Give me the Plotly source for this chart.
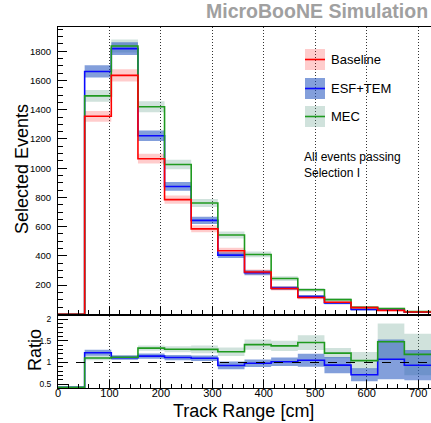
import plotly.graph_objects as go

# ---------------- data ----------------
bin_edges = [0, 51.8, 103.6, 155.4, 207.1, 258.9, 310.7, 362.5, 414.3, 466.1,
             517.9, 569.6, 621.4, 673.2, 725.0]

baseline = [0, 1355, 1635, 1065, 785, 585, 435, 290, 177, 115, 83, 46, 27, 16]
esf_tem = [0, 1662, 1818, 1222, 875, 643, 405, 285, 180, 121, 78, 33, 29, 15]
mec = [0, 1495, 1836, 1420, 1025, 762, 543, 410, 245, 168, 101, 48, 40, 19]

baseline_err = [0, 37, 42, 33, 28, 24, 21, 17, 13, 11, 9, 7, 5, 4]
esf_tem_err = [0, 42, 44, 36, 30, 25, 20, 17, 13, 11, 9, 6, 5, 4]
mec_err = [0, 40, 44, 38, 32, 28, 24, 20, 16, 13, 10, 7, 6, 4]

esf_ratio_err = [0, 0.07, 0.05, 0.06, 0.06, 0.065, 0.09, 0.085, 0.1, 0.15, 0.19, 0.15, 0.46, 0.35]
mec_ratio_err = [0, 0.05, 0.05, 0.06, 0.07, 0.09, 0.1, 0.12, 0.12, 0.17, 0.12, 0.2, 0.42, 0.48]

top_ticks = [200, 400, 600, 800, 1000, 1200, 1400, 1600, 1800]
ratio_ticks = [0.5, 1, 1.5, 2]
x_ticks = [0, 100, 200, 300, 400, 500, 600, 700]

series_names = ["Baseline", "ESF+TEM", "MEC"]

# ---------------- styling ----------------
W, H = 431, 423
L, R, T, B = 58, 0, 27, 35
PW = W - L - R
PH = H - T - B
FONT = "Liberation Sans, Arial, Helvetica, sans-serif"

RED, BLUE, GREEN = "#ff0000", "#0a0aff", "#1f9a1f"
RED_F = "rgba(255,0,0,0.2)"
BLUE_F = "rgba(30,80,190,0.55)"
GREEN_F = "rgba(100,160,140,0.3)"

RATIO_MIN, RATIO_MAX = 0.41, 2.08
GRID_DASH = "1px,2px"


def pxx(x):
    return (x - L) / PW


def pyy(y):
    return (H - B - y) / PH


def step(vals):
    return list(vals) + [vals[-1]]


fig = go.Figure()


def add_band(vals, errs, fill, xa, ya, lo_clip=None):
    lo = [v - e for v, e in zip(vals, errs)]
    hi = [v + e for v, e in zip(vals, errs)]
    if lo_clip is not None:
        lo = [max(v, lo_clip) for v in lo]
        hi = [max(v, lo_clip) for v in hi]
    fig.add_trace(go.Scatter(x=bin_edges, y=step(lo), mode="lines", line=dict(width=0, shape="hv"),
                             xaxis=xa, yaxis=ya, showlegend=False, hoverinfo="skip"))
    fig.add_trace(go.Scatter(x=bin_edges, y=step(hi), mode="lines", line=dict(width=0, shape="hv"),
                             fill="tonexty", fillcolor=fill, xaxis=xa, yaxis=ya,
                             showlegend=False, hoverinfo="skip"))


def add_line(vals, color, xa, ya, name):
    fig.add_trace(go.Scatter(x=bin_edges, y=step(vals), mode="lines",
                             line=dict(color=color, width=1.6, shape="hv"),
                             xaxis=xa, yaxis=ya, name=name, showlegend=False))


# top panel
add_band(mec, mec_err, GREEN_F, "x", "y")
add_band(esf_tem, esf_tem_err, BLUE_F, "x", "y")
add_band(baseline, baseline_err, RED_F, "x", "y")
add_line(esf_tem, BLUE, "x", "y", series_names[1])
add_line(mec, GREEN, "x", "y", series_names[2])
add_line(baseline, RED, "x", "y", series_names[0])

# ratio panel
esf_ratio = [e / b if b > 0 else 0 for e, b in zip(esf_tem, baseline)]
mec_ratio = [m / b if b > 0 else 0 for m, b in zip(mec, baseline)]
clip = RATIO_MIN + 0.015
add_band(mec_ratio, mec_ratio_err, GREEN_F, "x2", "y2", lo_clip=clip)
add_band(esf_ratio, esf_ratio_err, BLUE_F, "x2", "y2", lo_clip=clip)
add_line([max(v, clip) for v in esf_ratio], BLUE, "x2", "y2", series_names[1])
add_line([max(v, clip) for v in mec_ratio], GREEN, "x2", "y2", series_names[2])

axis_common = dict(showline=True, linecolor="black", linewidth=1, mirror=True,
                   ticks="inside", tickcolor="black", zeroline=False)

fig.update_layout(
    width=W, height=H,
    margin=dict(l=L, r=R, t=T, b=B, pad=0),
    paper_bgcolor="white", plot_bgcolor="white",
    font=dict(family=FONT, color="black"),
    showlegend=False,
    xaxis=dict(domain=[0, 1], anchor="y", range=[0, 725], tickvals=x_ticks, showticklabels=False,
               showgrid=True, gridcolor="#333", griddash=GRID_DASH, gridwidth=1,
               ticklen=8, minor=dict(dtick=20, ticklen=4, ticks="inside", tickcolor="black"),
               **axis_common),
    yaxis=dict(domain=[0.204, 1], anchor="x", range=[0, 1966], tickvals=top_ticks,
               showgrid=False, ticklen=9, tickfont=dict(size=9.5),
               ticklabelstandoff=4,
               minor=dict(dtick=50, ticklen=5, ticks="inside", tickcolor="black"),
               **axis_common),
    xaxis2=dict(domain=[0, 1], anchor="y2", range=[0, 725], tickvals=x_ticks,
                tickfont=dict(size=11), matches="x", ticklabelstandoff=-5,
                showgrid=True, gridcolor="#333", griddash=GRID_DASH, gridwidth=1,
                ticklen=8, minor=dict(dtick=20, ticklen=4, ticks="inside", tickcolor="black"),
                **axis_common),
    yaxis2=dict(domain=[0, 0.2], anchor="x2", range=[RATIO_MIN, RATIO_MAX], tickvals=ratio_ticks,
                ticktext=["0.5", "1", "1.5", "2"],
                showgrid=False, ticklen=10, tickfont=dict(size=8.5), ticklabelstandoff=4,
                minor=dict(dtick=0.1, ticklen=5, ticks="inside", tickcolor="black"),
                **axis_common),
)

# dashed line at ratio 1
fig.add_shape(type="line", xref="x2 domain", yref="y2", x0=0, x1=1, y0=1, y1=1,
              line=dict(color="black", width=1.2, dash="dash"))

# manual legend
legend_rows = [(series_names[0], RED, RED_F, 49, 70),
               (series_names[1], BLUE, BLUE_F, 78, 99),
               (series_names[2], GREEN, GREEN_F, 106, 127)]
for name, lc, fc, y0, y1 in legend_rows:
    fig.add_shape(type="rect", xref="paper", yref="paper",
                  x0=pxx(305), x1=pxx(325), y0=pyy(y1), y1=pyy(y0),
                  fillcolor=fc, line=dict(width=0))
    ym = (y0 + y1) / 2
    fig.add_shape(type="line", xref="paper", yref="paper",
                  x0=pxx(305), x1=pxx(325), y0=pyy(ym), y1=pyy(ym),
                  line=dict(color=lc, width=1.6))
    fig.add_annotation(xref="paper", yref="paper", x=pxx(329), y=pyy(ym), text=name,
                       showarrow=False, xanchor="left", yanchor="middle",
                       font=dict(size=13, family=FONT, color="black"))

fig.add_annotation(xref="paper", yref="paper", x=pxx(302), y=pyy(157), text="All events passing",
                   showarrow=False, xanchor="left", yanchor="middle",
                   font=dict(size=12, family=FONT, color="black"))
fig.add_annotation(xref="paper", yref="paper", x=pxx(302), y=pyy(173), text="Selection I",
                   showarrow=False, xanchor="left", yanchor="middle",
                   font=dict(size=12, family=FONT, color="black"))

# titles
fig.add_annotation(xref="paper", yref="paper", x=pxx(430), y=pyy(11), text="<b>MicroBooNE Simulation</b>",
                   showarrow=False, xanchor="right", yanchor="middle",
                   font=dict(size=19.5, family=FONT, color="#a0a0a0"))
fig.add_annotation(xref="paper", yref="paper", x=pxx(22), y=pyy(169), text="Selected Events",
                   showarrow=False, textangle=-90, xanchor="center", yanchor="middle",
                   font=dict(size=18, family=FONT, color="black"))
fig.add_annotation(xref="paper", yref="paper", x=pxx(35), y=pyy(350), text="Ratio",
                   showarrow=False, textangle=-90, xanchor="center", yanchor="middle",
                   font=dict(size=18, family=FONT, color="black"))
fig.add_annotation(xref="paper", yref="paper", x=pxx(243.5), y=pyy(411), text="Track Range [cm]",
                   showarrow=False, xanchor="center", yanchor="middle",
                   font=dict(size=18, family=FONT, color="black"))

fig.write_html("out.html", config={"displayModeBar": False},
               post_script="document.body.style.margin='0';document.body.style.overflow='hidden';")
